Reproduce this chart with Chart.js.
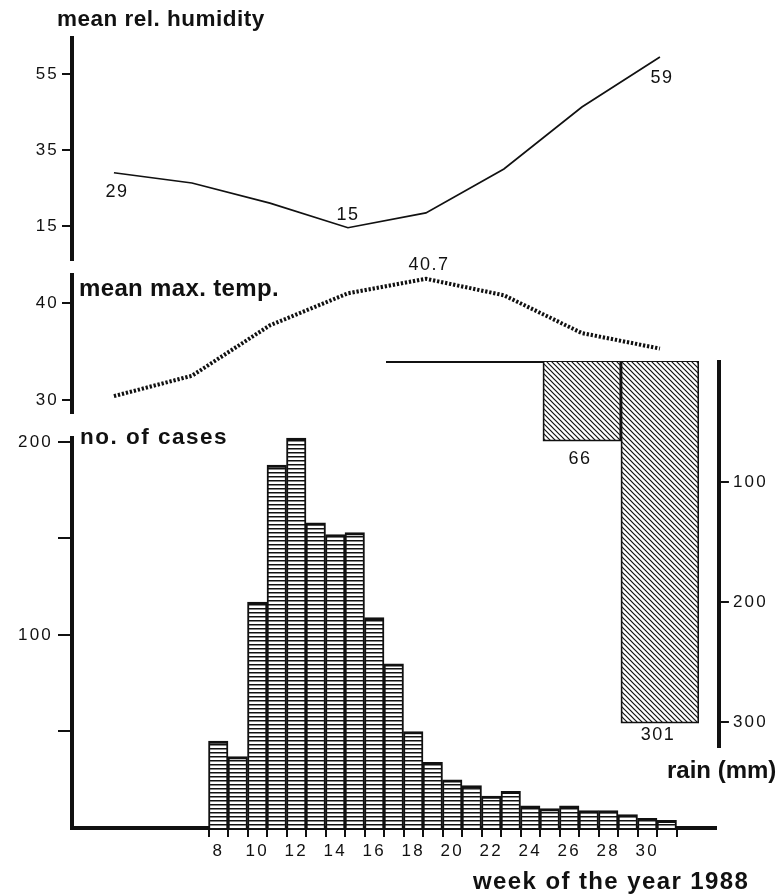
<!DOCTYPE html>
<html>
<head>
<meta charset="utf-8">
<script src="https://cdn.jsdelivr.net/npm/chart.js@4.4.1/dist/chart.umd.min.js"></script>
<style>
  body { margin: 0; background: #fff; }
  #page { position: relative; width: 782px; height: 895px; overflow: hidden; background: #fff; }
  #page canvas { position: absolute; left: 0; top: 0; }
  .cap { position: absolute; font-family: "Liberation Sans", Arial, sans-serif; font-weight: bold; color: #111; white-space: nowrap; line-height: 1; }
</style>
</head>
<body>
<div id="page">
  <canvas id="humChart" width="782" height="895"></canvas>
  <canvas id="tempChart" width="782" height="895"></canvas>
  <canvas id="casesChart" width="782" height="895"></canvas>
  <canvas id="rainChart" width="782" height="895"></canvas>
  <div class="cap" style="left:57px;top:7.6px;font-size:22.5px;letter-spacing:0.5px">mean rel. humidity</div>
  <div class="cap" style="left:79px;top:276.4px;font-size:24px;letter-spacing:0.35px">mean max. temp.</div>
  <div class="cap" style="left:80px;top:426px;font-size:22.5px;letter-spacing:1.5px">no. of cases</div>
  <div class="cap" style="left:667px;top:758px;font-size:24px">rain (mm)</div>
  <div class="cap" style="left:473px;top:869px;font-size:24px;letter-spacing:1.4px">week of the year 1988</div>
</div>
<script>
// ---------------- DATA ----------------
// monthly values are placed at the middle of each month, in week units
const monthMid = [2.65, 6.65, 10.65, 14.65, 18.65, 22.65, 26.65, 30.65];
const humidity = [29, 26.3, 21, 14.5, 18.4, 30, 46.3, 59.5];
const humidityNotes = ["29", "", "", "15", "", "", "", "59"];
const maxTemp = [30.4, 32.5, 37.7, 41.0, 42.5, 40.8, 36.9, 35.3];
const maxTempNotes = ["", "", "", "", "40.7", "", "", ""];

const weeks = [8, 9, 10, 11, 12, 13, 14, 15, 16, 17, 18, 19, 20, 21, 22, 23, 24, 25, 26, 27, 28, 29, 30, 31];
const cases = [45, 37, 117, 188, 202, 158, 152, 153, 109, 85, 50, 34, 25, 22, 16.5, 19, 11.5, 10, 11.5, 9, 9, 7, 5, 4];

const rainMid = [18.65, 22.65, 26.65, 30.65];
const rainEdges = [16.65, 20.65, 24.65, 28.65, 32.65];
const rain = [0, 0, 66, 301];
const rainNotes = ["", "", "66", "301"];

const humTicks = [15, 35, 55];
const tempTicks = [30, 40];
const caseTicks = [50, 100, 150, 200];
const caseTickLabels = [100, 200];
const weekTickLabels = [8, 10, 12, 14, 16, 18, 20, 22, 24, 26, 28, 30];
const rainTicks = [100, 200, 300];

// ---------------- FRAME ----------------
const W = 782, H = 895;
const AXIS_X = 72, WEEK_PX = 19.5, WEEK_MIN = 0.5, WEEK_MAX = 33.5;
const allWeeks = Array.from({ length: WEEK_MAX - WEEK_MIN }, (_, i) => i + 1);
const weekPx = w => AXIS_X + (w - WEEK_MIN) * WEEK_PX;
const RIGHT_X = weekPx(WEEK_MAX);

Chart.defaults.font.family = '"Liberation Sans", Arial, sans-serif';
Chart.defaults.font.size = 17;
Chart.defaults.color = '#111';
Chart.defaults.animation = false;
Chart.defaults.plugins.legend.display = false;
Chart.defaults.plugins.tooltip.enabled = false;

// ---------------- PLUGINS ----------------
// the printed digits are set wide, so open up the canvas text a little
const spacing = {
  id: 'spacing',
  beforeDraw(chart) { chart.ctx.letterSpacing = '2.2px'; }
};

// value notes next to single points / bars
const notes = {
  id: 'notes',
  afterDatasetsDraw(chart, args, opts) {
    const { ctx } = chart;
    const meta = chart.getDatasetMeta(0);
    ctx.save();
    ctx.letterSpacing = '1.5px';
    ctx.font = '18px "Liberation Sans", Arial, sans-serif';
    ctx.fillStyle = '#111';
    ctx.textAlign = 'center';
    ctx.textBaseline = 'middle';
    opts.texts.forEach((t, i) => {
      if (!t) return;
      const el = meta.data[i];
      const off = opts.offsets[i] || [0, 0];
      ctx.fillText(t, el.x + off[0], el.y + off[1]);
    });
    ctx.restore();
  }
};

// rain axis stands a little apart from its bars
const shiftAxis = {
  id: 'shiftAxis',
  afterLayout(chart, args, opts) {
    const s = chart.scales.y;
    s.left += opts.by;
    s.right += opts.by;
  }
};

function leftAxis(min, max, ticks, shown, tickLength, padding) {
  return {
    position: 'left', min, max,
    afterFit: s => { s.width = AXIS_X; },
    afterBuildTicks: s => { s.ticks = ticks.map(v => ({ value: v })); },
    border: { color: '#111', width: 4 },
    grid: { drawOnChartArea: false, color: '#111', lineWidth: 2, tickLength },
    ticks: { padding, callback: v => shown.includes(v) ? String(v) : '' }
  };
}

function weekAxis() {
  return { type: 'linear', min: WEEK_MIN, max: WEEK_MAX, display: false };
}

// ---------------- PATTERNS ----------------
function stripes() {
  const c = document.createElement('canvas');
  c.width = 4; c.height = 4;
  const g = c.getContext('2d');
  g.fillStyle = '#fff'; g.fillRect(0, 0, 4, 4);
  g.fillStyle = '#111'; g.fillRect(0, 0, 4, 1.5);
  return g.createPattern(c, 'repeat');
}
function hatch() {
  const n = 5;
  const c = document.createElement('canvas');
  c.width = n; c.height = n;
  const g = c.getContext('2d');
  g.fillStyle = '#fff'; g.fillRect(0, 0, n, n);
  g.strokeStyle = '#111'; g.lineWidth = 1.2;
  g.beginPath();
  g.moveTo(-1, -1); g.lineTo(n + 1, n + 1);
  g.moveTo(-1, n - 1); g.lineTo(1, n + 1);
  g.moveTo(n - 1, -1); g.lineTo(n + 1, 1);
  g.stroke();
  return g.createPattern(c, 'repeat');
}

// ---------------- HUMIDITY ----------------
new Chart(document.getElementById('humChart'), {
  type: 'line',
  data: {
    datasets: [{
      data: monthMid.map((m, i) => ({ x: m, y: humidity[i] })),
      borderColor: '#111', borderWidth: 1.7, pointRadius: 0, tension: 0, clip: false
    }]
  },
  options: {
    responsive: false,
    layout: { padding: { left: 0, top: 38, right: W - RIGHT_X, bottom: H - 260 } },
    scales: { x: weekAxis(), y: leftAxis(6, 64.5, humTicks, humTicks, 10, 3) },
    plugins: { notes: { texts: humidityNotes, offsets: { 0: [3, 19], 3: [0, -13], 7: [2, 21] } } }
  },
  plugins: [spacing, notes]
});

// ---------------- MAX TEMPERATURE ----------------
new Chart(document.getElementById('tempChart'), {
  type: 'line',
  data: {
    datasets: [{
      data: monthMid.map((m, i) => ({ x: m, y: maxTemp[i] })),
      borderColor: '#111', borderWidth: 4, borderDash: [2.3, 1.8], borderCapStyle: 'butt',
      pointRadius: 0, tension: 0, clip: false
    }]
  },
  options: {
    responsive: false,
    layout: { padding: { left: 0, top: 275, right: W - RIGHT_X, bottom: H - 413 } },
    scales: { x: weekAxis(), y: leftAxis(28.66, 42.89, tempTicks, tempTicks, 10, 3) },
    plugins: { notes: { texts: maxTempNotes, offsets: { 4: [3, -14] } } }
  },
  plugins: [spacing, notes]
});

// ---------------- CASES ----------------
const firstLine = allWeeks.indexOf(weeks[0]);
const lastLine = allWeeks.indexOf(weeks[weeks.length - 1]) + 1;

new Chart(document.getElementById('casesChart'), {
  type: 'bar',
  data: {
    labels: allWeeks,
    datasets: [{
      data: weeks.map((w, i) => ({ x: w, y: cases[i] })),
      backgroundColor: stripes(), borderColor: '#111',
      borderWidth: { top: 3, left: 2, right: 2, bottom: 0 },
      barPercentage: 1, categoryPercentage: 1, clip: false
    }]
  },
  options: {
    responsive: false,
    layout: { padding: { left: 0, top: 438, right: W - RIGHT_X, bottom: H - 828 - 40 } },
    scales: {
      x: {
        type: 'category', offset: true,
        afterFit: s => { s.height = 40; },
        border: { color: '#111', width: 4 },
        grid: {
          offset: true, drawOnChartArea: false, tickLength: 9, lineWidth: 2,
          color: ctx => (ctx.index >= firstLine && ctx.index <= lastLine) ? '#111' : 'rgba(0,0,0,0)'
        },
        ticks: {
          autoSkip: false, maxRotation: 0, padding: 4,
          callback: function (v) {
            const w = this.getLabelForValue(v);
            return weekTickLabels.includes(w) ? String(w) : '';
          }
        }
      },
      y: leftAxis(0, 202, caseTicks, caseTickLabels, 14, 5)
    }
  },
  plugins: [spacing]
});

// ---------------- RAIN ----------------
const RAIN_AXIS_W = 60;
new Chart(document.getElementById('rainChart'), {
  type: 'bar',
  data: {
    datasets: [{
      data: rainMid.map((m, i) => ({ x: m, y: rain[i] })),
      backgroundColor: hatch(), borderColor: '#111', borderWidth: 1.8,
      barPercentage: 1, categoryPercentage: 1
    }]
  },
  options: {
    responsive: false,
    layout: {
      padding: {
        left: weekPx(rainEdges[0]), top: 362,
        right: W - weekPx(rainEdges[rainEdges.length - 1]) - RAIN_AXIS_W, bottom: H - 747
      }
    },
    scales: {
      x: {
        type: 'linear', position: 'top', offset: false,
        min: rainEdges[0], max: rainEdges[rainEdges.length - 1],
        afterFit: s => { s.height = 0; },
        afterBuildTicks: s => { s.ticks = rainEdges.map(v => ({ value: v })); },
        border: { color: '#111', width: 2 },
        grid: { display: false },
        ticks: { display: false }
      },
      y: {
        position: 'right', reverse: true, min: 0, max: 320.8,
        afterFit: s => { s.width = RAIN_AXIS_W; },
        afterBuildTicks: s => { s.ticks = rainTicks.map(v => ({ value: v })); },
        border: { color: '#111', width: 4 },
        grid: { drawOnChartArea: false, color: '#111', lineWidth: 2, tickLength: 10 },
        ticks: { padding: 4 }
      }
    },
    plugins: {
      shiftAxis: { by: 20 },
      notes: { texts: rainNotes, offsets: { 2: [-2, 18], 3: [-2, 12] } }
    }
  },
  plugins: [spacing, notes, shiftAxis]
});
</script>
</body>
</html>
